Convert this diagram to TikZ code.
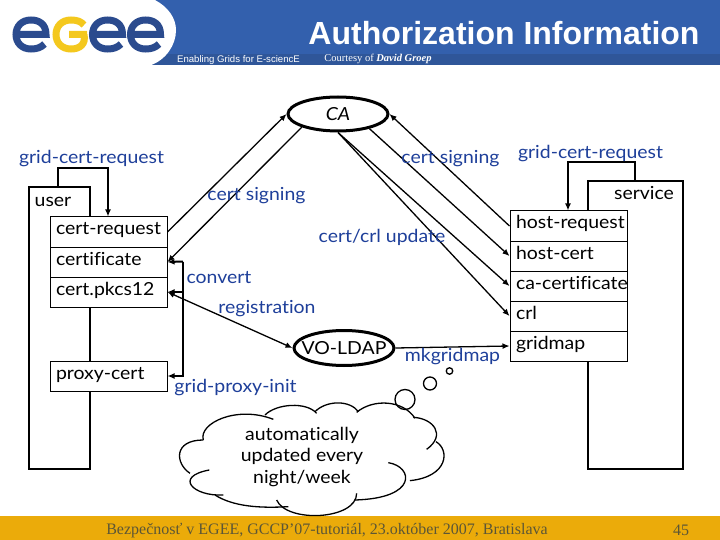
\documentclass[tikz,border=0pt]{standalone}
\usepackage{fontspec}
\setmainfont{Lato}[FakeStretch=1.08,Ligatures=NoCommon]
\newfontfamily\headfont{Liberation Sans}
\newfontfamily\footfont{Liberation Serif}
\usetikzlibrary{arrows.meta,shapes.geometric,calc}
\definecolor{headblue}{HTML}{3360AD}
\definecolor{stripblue}{HTML}{2F5699}
\definecolor{logoblue}{HTML}{2B4B8E}
\definecolor{logoyellow}{HTML}{F4C81E}
\definecolor{footorange}{HTML}{EBAB0A}
\definecolor{footgray}{HTML}{5C5636}
\definecolor{labelblue}{HTML}{1E3F9A}
\newcommand{\eglyph}[1]{%
  \draw[logostroke,logoblue] ({#1-15},34.5) -- ({#1+15},34.5)
    .. controls ({#1+15},24) and ({#1+8},20) .. (#1,20)
    .. controls ({#1-9},20) and ({#1-15},26) .. ({#1-15},34.5)
    .. controls ({#1-15},43) and ({#1-9},49) .. (#1,49)
    .. controls ({#1+6},49) and ({#1+10},47.5) .. ({#1+13.5},44);}
\tikzset{
  px/.style={x=1pt,y=-1pt},
  logostroke/.style={line width=7pt,line cap=butt},
  lbl/.style={font=\fontsize{18}{20}\selectfont,text=labelblue,inner sep=0pt,text height=16pt,text depth=3pt},
  boxtxt/.style={font=\fontsize{18}{20}\selectfont,text=black},
  cell/.style={boxtxt,draw=black,line width=1pt,fill=white,minimum height=30pt,text width=105pt,text height=12pt,text depth=6pt,inner xsep=6pt,inner ysep=0pt,align=left,anchor=north west},
  frame/.style={draw=black,line width=2.2pt},
  link/.style={draw=black,line width=1.3pt},
  tip/.style={-{Latex[length=7pt,width=6pt]}},
  bitip/.style={{Latex[length=7pt,width=6pt]}-{Latex[length=7pt,width=6pt]}},
  oval/.style={ellipse,draw=black,line width=3pt,inner sep=0pt,fill=white},
  bubble/.style={circle,draw=black,line width=1.3pt,inner sep=0pt},
  plain/.style={boxtxt,inner sep=0pt,text height=16pt,text depth=3pt},
}
\begin{document}
\begin{tikzpicture}[px]
\useasboundingbox (0,0) rectangle (720,540);
\fill[white] (0,0) rectangle (720,540);
% header
\fill[headblue] (150,0) rectangle (720,54);
\fill[stripblue] (150,54) rectangle (720,65.5);
\fill[white] (0,0) -- (155,0) .. controls (168,7) and (176,18) .. (176,30)
  .. controls (176,45) and (166,60) .. (150,65.5) -- (0,65.5) -- cycle;
\eglyph{31}
\draw[logostroke,logoyellow] (87,34.5) -- (69,34.5) (84,34.5) .. controls (86,44) and (80,49) .. (71,49)
  .. controls (62,49) and (56,43) .. (56,34.5) .. controls (56,26) and (62,20) .. (71,20) .. controls (77,20) and (81,21.5) .. (84,25);
\eglyph{107.5}
\eglyph{145.5}
\node[inner sep=0pt,text=white,font=\headfont\bfseries\fontsize{32}{36}\selectfont] (title) at (504,33) {Authorization Information};
\node[inner sep=0pt,text=white,font=\headfont\fontsize{9.6}{11}\selectfont] (tag) at (238.5,60) {Enabling Grids for E-sciencE};
\node[inner sep=0pt,text=white,font=\footfont\fontsize{10.5}{12}\selectfont] (court) at (378,59) {Courtesy of \textbf{\textit{David Groep}}};
% footer
\fill[footorange] (0,516) rectangle (720,540);
\node[inner sep=0pt,text=footgray,font=\footfont\fontsize{16}{20}\selectfont] (foot) at (327,530.5) {Bezpečnosť v EGEE, GCCP’07-tutoriál, 23.október 2007, Bratislava};
\node[inner sep=0pt,text=footgray,font=\footfont\fontsize{16}{20}\selectfont] (page) at (681,530.5) {45};
% frames
\node[frame,minimum width=61pt,minimum height=282pt,inner sep=0pt,anchor=north west] (userframe) at (28,186) {};
\node[frame,minimum width=95pt,minimum height=288pt,inner sep=0pt,anchor=north west] (serviceframe) at (587,180) {};
\node[plain] (user) at (53,200) {user};
\node[plain] (service) at (644,193) {service};
% loops
\coordinate (uloopstart) at (58,186);
\coordinate (sloopstart) at (634.5,180);
% boxes left
\node[cell] (creq) at (49.5,216.5) {\mbox{cert-request}};
\node[cell] (cert) at (49.5,246.5) {\mbox{certificate}};
\node[cell] (pkcs) at (49.5,276.5) {\mbox{cert.pkcs12}};
\node[cell] (proxy) at (49.5,360.5) {\mbox{proxy-cert}};
% boxes right
\node[cell] (hreq) at (509.5,210.5) {\mbox{host-request}};
\node[cell] (hcert) at (509.5,240.5) {\mbox{host-cert}};
\node[cell] (cacert) at (509.5,270.5) {\mbox{ca-certificate}};
\node[cell] (crl) at (509.5,300.5) {\mbox{crl}};
\node[cell] (gmap) at (509.5,330.5) {\mbox{gridmap}};
% ovals
\node[oval,minimum width=100pt,minimum height=34pt,label={[boxtxt,inner sep=0pt]center:\textit{CA}}] (ca) at (338,114) {};
\node[oval,minimum width=100pt,minimum height=35pt,label={[boxtxt,inner sep=0pt]center:VO-LDAP}] (vo) at (344,348) {};
% connectors
\draw[frame,line width=2pt,tip] (uloopstart) |- (108,168) -- (creq.north -| 108,0);
\draw[frame,line width=2pt,tip] (sloopstart) |- (568,162) -- (hreq.north -| 568,0);
\draw[link,tip] (creq.east) -- (ca.west);
\draw[link,tip] (ca.200) -- (cert.east);
\draw[link,tip] (hreq.west) -- (ca.east);
\draw[link,tip] (ca.335) -- (hcert.west);
\draw[link,tip] (ca.south) -- (cacert.west);
\draw[link,tip] (ca.south) -- (crl.west);
\draw[link,bitip] (pkcs.east) -- (vo.west);
\draw[link,tip] (vo.east) -- (gmap.west);
\coordinate (bus) at (183,261.5);
\draw[frame,line width=2pt,tip] (bus) -- (cert.east);
\draw[frame,line width=2pt,tip] (bus) |- (proxy.east);
\draw[frame,line width=2pt,tip] (bus |- pkcs.east) -- (pkcs.east);
% labels
\node[lbl] (l1) at (91.5,157) {grid-cert-request};
\node[lbl] (l2) at (256.5,194) {cert signing};
\node[lbl] (l3) at (450.5,157) {cert signing};
\node[lbl] (l4) at (590.5,152) {grid-cert-request};
\node[lbl] (l5) at (382,236) {cert/crl update};
\node[lbl] (l6) at (219,277) {convert};
\node[lbl] (l7) at (267,307) {registration};
\node[lbl] (l8) at (452.5,355) {mkgridmap};
\node[lbl] (l9) at (235.5,386) {grid-proxy-init};
% cloud
\begin{scope}[shift={(170,360)},x=0.3333pt,y=-0.3333pt,line width=1.3pt]
\draw (100,240) .. controls (85,190) and (200,135) .. (310,178);
\draw (285,165) .. controls (320,130) and (410,125) .. (440,160);
\draw (435,155) .. controls (470,120) and (540,120) .. (565,155);
\draw (560,157) .. controls (610,115) and (700,120) .. (735,175);
\draw (730,172) .. controls (790,175) and (830,225) .. (770,268);
\draw (798,245) .. controls (840,270) and (835,350) .. (720,362);
\draw (655,308) .. controls (730,320) and (745,415) .. (555,420);
\draw (560,400) .. controls (560,480) and (350,490) .. (320,420);
\draw (355,440) .. controls (270,445) and (190,440) .. (135,405);
\draw (160,405) .. controls (70,410) and (10,350) .. (118,330);
\draw (60,340) .. controls (15,310) and (10,240) .. (100,240);
\end{scope}
\node[bubble,minimum size=20pt] (b1) at (405,399.5) {};
\node[bubble,minimum size=13pt] (b2) at (430,383.5) {};
\node[bubble,minimum size=6.5pt] (b3) at (449.5,371) {};
\node[plain] (c1) at (302,434) {automatically};
\node[plain] (c2) at (302,455) {updated every};
\node[plain] (c3) at (302,477) {night/week};
\end{tikzpicture}
\end{document}
